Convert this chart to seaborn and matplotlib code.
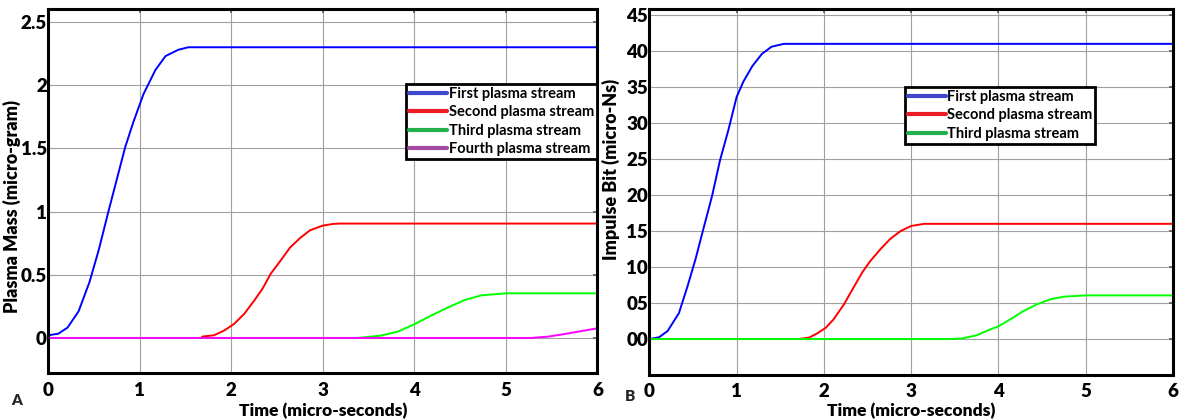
import matplotlib
matplotlib.use("Agg")
import matplotlib.pyplot as plt
from matplotlib.lines import Line2D
import seaborn as sns

# ------------------------------
# Data
# ------------------------------
# Panel A - plasma mass (micro-gram)
time_first_a = [0, 0.11, 0.21, 0.33, 0.45, 0.55, 0.66, 0.75, 0.84, 0.93, 1.04, 1.17, 1.28, 1.42, 1.53, 6.0]
mass_first = [0.021, 0.034, 0.082, 0.21, 0.443, 0.694, 1.01, 1.26, 1.51, 1.71, 1.93, 2.12, 2.23, 2.28, 2.30, 2.30]

time_second_a = [1.67, 1.685, 1.81, 1.92, 2.03, 2.14, 2.25, 2.34, 2.43, 2.54, 2.64, 2.75, 2.86, 3.0, 3.11, 3.19, 6.0]
mass_second = [0.0, 0.011, 0.021, 0.058, 0.111, 0.19, 0.296, 0.389, 0.508, 0.614, 0.714, 0.79, 0.852, 0.889, 0.902, 0.905, 0.905]

time_third_a = [0, 3.38, 3.63, 3.82, 4.0, 4.18, 4.37, 4.55, 4.73, 5.0, 6.0]
mass_third = [0, 0, 0.018, 0.05, 0.108, 0.176, 0.242, 0.3, 0.337, 0.353, 0.353]

time_fourth_a = [0, 5.28, 5.47, 5.65, 5.83, 6.0]
mass_fourth = [0, 0, 0.011, 0.032, 0.055, 0.076]

# Panel B - impulse bit (micro-Ns)
time_first_b = [0, 0.11, 0.21, 0.34, 0.44, 0.53, 0.62, 0.72, 0.81, 0.91, 1.0, 1.08, 1.18, 1.29, 1.40, 1.54, 6.0]
impulse_first = [0, 0.23, 1.11, 3.6, 7.4, 11.1, 15.3, 19.9, 24.8, 29.2, 33.6, 35.8, 37.9, 39.6, 40.6, 41.0, 41.0]

time_second_b = [0, 1.71, 1.83, 1.92, 2.02, 2.11, 2.23, 2.34, 2.44, 2.53, 2.65, 2.76, 2.88, 3.0, 3.15, 6.0]
impulse_second = [0, 0, 0.19, 0.75, 1.54, 2.71, 4.81, 7.15, 9.25, 10.8, 12.5, 13.9, 15.0, 15.7, 16.0, 16.0]

time_third_b = [0, 3.44, 3.59, 3.75, 3.9, 4.0, 4.13, 4.28, 4.44, 4.59, 4.75, 5.0, 6.0]
impulse_third = [0, 0, 0.09, 0.51, 1.3, 1.76, 2.69, 3.84, 4.81, 5.5, 5.88, 6.06, 6.06]

stream_names = ["First plasma stream", "Second plasma stream", "Third plasma stream", "Fourth plasma stream"]
x_ticks = [0, 1, 2, 3, 4, 5, 6]
mass_ticks = [0, 0.5, 1, 1.5, 2, 2.5]
mass_tick_labels = ["0", "0.5", "1", "1.5", "2", "2.5"]
impulse_ticks = [0, 5, 10, 15, 20, 25, 30, 35, 40, 45]
impulse_tick_labels = ["00", "05", "10", "15", "20", "25", "30", "35", "40", "45"]

line_colors = ["#0000ff", "#ff0000", "#00ff00", "#ff00ff"]
legend_colors = ["#3f48cc", "#ed1c24", "#22b14c", "#a349a4"]

# ------------------------------
# Style
# ------------------------------
sns.set_theme(style="white")
plt.rcParams["font.family"] = ["Lato", "DejaVu Sans"]
plt.rcParams["font.weight"] = "bold"

fig = plt.figure(figsize=(11.79, 4.19), dpi=100)
ax_a = fig.add_axes([0.041, 0.109, 0.4657, 0.8687])
ax_b = fig.add_axes([0.5507, 0.105, 0.4442, 0.8728])


def draw(ax, t, y, color):
    sns.lineplot(x=t, y=y, ax=ax, color=color, linewidth=1.4,
                 estimator=None, sort=False, legend=False)


# Panel A
draw(ax_a, time_first_a, mass_first, line_colors[0])
draw(ax_a, time_second_a, mass_second, line_colors[1])
draw(ax_a, time_third_a, mass_third, line_colors[2])
draw(ax_a, time_fourth_a, mass_fourth, line_colors[3])

# Panel B
draw(ax_b, time_first_b, impulse_first, line_colors[0])
draw(ax_b, time_second_b, impulse_second, line_colors[1])
draw(ax_b, time_third_b, impulse_third, line_colors[2])

ax_a.set_xlim(0, 6)
ax_a.set_ylim(-0.28, 2.6)
ax_a.set_yticks(mass_ticks)
ax_a.set_yticklabels(mass_tick_labels)

ax_b.set_xlim(0, 6)
ax_b.set_ylim(-5, 45.8)
ax_b.set_yticks(impulse_ticks)
ax_b.set_yticklabels(impulse_tick_labels)

for ax in (ax_a, ax_b):
    ax.set_xticks(x_ticks)
    ax.set_xticklabels([str(v) for v in x_ticks])
    ax.grid(True, color="#a0a0a0", linewidth=0.8)
    ax.set_axisbelow(True)
    for s in ax.spines.values():
        s.set_color("black")
        s.set_linewidth(2.2)
    ax.tick_params(axis="both", labelsize=13.5, labelcolor="black", direction="in", length=3,
                   color="#606060", top=True, right=True)
    ax.tick_params(axis="x", pad=6)
    ax.tick_params(axis="y", pad=1)
    plt.setp(ax.get_xticklabels() + ax.get_yticklabels(), fontweight="heavy")
    ax.set_xlabel("Time (micro-seconds)", fontsize=12.5, fontweight="heavy", color="black")

ax_a.xaxis.set_label_coords(0.5, -0.08)
ax_b.xaxis.set_label_coords(0.5, -0.075)

ax_a.set_ylabel("Plasma Mass (micro-gram)", fontsize=13, fontweight="heavy", color="black")
ax_a.yaxis.set_label_coords(-0.049, 0.457)
ax_b.set_ylabel("Impulse Bit (micro-Ns)", fontsize=13, fontweight="heavy", color="black")
ax_b.yaxis.set_label_coords(-0.055, 0.563)

# Legends
leg_style = dict(fancybox=False, framealpha=1, edgecolor="black", fontsize=10.5,
                 handlelength=2.6, handletextpad=0.1, borderpad=0.2, labelspacing=0.3,
                 borderaxespad=0)

handles_a = [Line2D([], [], color=c, linewidth=3) for c in legend_colors]
leg_a = ax_a.legend(handles_a, stream_names, loc="upper right", bbox_to_anchor=(0.999, 0.795), **leg_style)
leg_a.get_frame().set_linewidth(2)
for txt in leg_a.get_texts():
    txt.set_fontweight("bold")
    txt.set_color("black")

handles_b = [Line2D([], [], color=c, linewidth=3) for c in legend_colors[:3]]
leg_b = ax_b.legend(handles_b, stream_names[:3], loc="upper left", bbox_to_anchor=(0.488, 0.787), **leg_style)
leg_b.get_frame().set_linewidth(2)
for txt in leg_b.get_texts():
    txt.set_fontweight("bold")
    txt.set_color("black")

fig.text(0.0144, 0.045, "A", fontsize=11, fontweight="heavy", ha="center", va="center")
fig.text(0.534, 0.053, "B", fontsize=11, fontweight="heavy", ha="center", va="center")

fig.savefig("out.png", dpi=100)
